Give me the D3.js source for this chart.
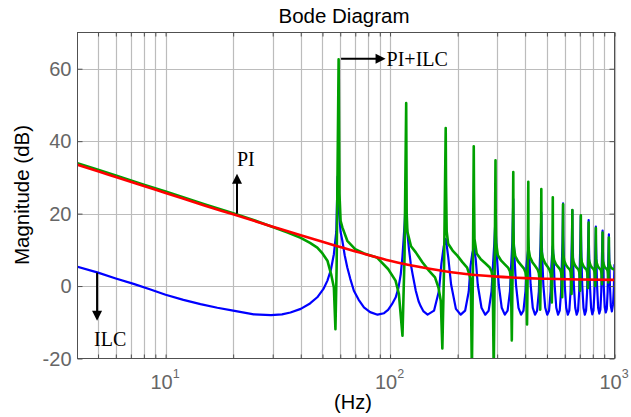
<!DOCTYPE html>
<html><head><meta charset="utf-8">
<script src="https://cdn.jsdelivr.net/npm/d3@7"></script>
<style>body{margin:0;background:#fff}svg{display:block}</style>
</head><body><svg id="c" width="631" height="417"></svg>
<script>
// ---- data ----
const xTicks = [10, 100, 1000];
const xTickExp = ["1", "2", "3"];
const yTicks = [-20, 0, 20, 40, 60];
const xGrid = [5,6,7,8,9,10,20,30,40,50,60,70,80,90,100,200,300,400,500,600,700,800,900,1000];

const piCurve = [[4,33.6],[5,31.7],[6,30.1],[8,27.6],[10,25.7],[15,22.2],[20,19.8],[30,16.4],[40,14.0],[50,12.2],[60,10.8],[80,8.6],[100,7.0],[150,4.8],[200,3.6],[300,2.6],[400,2.2],[500,2.0],[700,1.8],[1000,1.7]];

const ilcCurve = [[4,5.4],[5,3.7],[6,2.1],[7.2,0.6],[8.5,-0.9],[10,-2.4],[12,-3.8],[14.3,-5.0],[17,-6.0],[20,-6.8],[24.7,-7.8],[29.5,-8.0],[33,-7.8],[36,-7.3],[40,-6.3],[44,-4.8],[47.4,-3.1],[50.5,-0.8],[52.6,1.5],[54.5,4.5],[56.2,8.8],[57.6,15],[58.4,30.2],[59.3,20],[60.2,15],[61.3,12.5],[62.8,8.5],[64.5,5.1],[66.5,2],[69,-1.3],[72.5,-3.8],[76.5,-5.9],[81.5,-7.2],[88,-7.9],
[94,-7.5],[98,-6.6],[102,-5.0],[106,-3.1],[109,-0.5],[111.6,3.3],[113.5,8],[114.8,12.5],[116.3,18],[117.4,23.7],[118.5,17],[119.6,14.3],[121.5,10],[123.7,6.1],[126,3.3],[130.2,-1.3],[134,-4.2],[137,-5.6],[141,-7.0],[147,-7.9],
[157,-6.8],[165.2,-1.3],[169.3,6.1],[173.5,11],[177,13],[178.2,12],[181.7,7.9],[187,0.5],[196.5,-6.3],[206.5,-7.9],
[216,-6.8],[224.2,-1.5],[228.3,5.5],[232.5,9],[236,10.6],[237.2,10],[240.7,7.5],[246,0.3],[255.5,-6],[265.5,-7.9],
[275,-6.8],[283.2,-1.5],[287.3,5.5],[291.5,12],[295,18.9],[296.2,14],[299.7,7.5],[305,0.3],[314.5,-6],[324.5,-7.9],
[334,-6.8],[342.2,-1.5],[346.3,5.5],[350.5,12],[354,24],[355.2,14],[358.7,7.5],[364,0.3],[373.5,-6],[383.5,-7.9],
[393,-6.8],[401.2,-1.5],[405.3,5.5],[409.5,8.5],[413,10.3],[414.2,9.5],[417.7,7.5],[423,0.3],[432.5,-6],[442.5,-7.9],
[452,-6.8],[460.2,-1.5],[464.3,5.5],[468.5,12],[472,20.3],[473.2,14],[476.7,7.5],[482,0.3],[491.5,-6],[501.5,-7.9],
[511,-6.8],[519.2,-1.5],[523.3,5.5],[527.5,9],[531,11],[532.2,10],[535.7,7.5],[541,0.3],[550.5,-6],[560.5,-7.9],
[570,-6.8],[578.2,-1.5],[582.3,5.5],[586.5,12],[590,22.8],[591.2,14],[594.7,7.5],[600,0.3],[609.5,-6],[619.5,-7.9],
[629,-6.8],[637.2,-1.5],[641.3,5.5],[645.5,12],[649,21],[650.2,14],[653.7,7.5],[659,0.3],[668.5,-6],[678.5,-7.9],
[688,-6.8],[696.2,-1.5],[700.3,5.5],[704.5,12],[708,19.4],[709.2,14],[712.7,7.5],[718,0.3],[727.5,-6],[737.5,-7.9],
[747,-6.8],[755.2,-1.5],[759.3,5.5],[763.5,12],[767,18.2],[768.2,13],[771.7,7.5],[777,0.3],[786.5,-6],[796.5,-7.8],
[806,-6.7],[814.2,-1.5],[818.3,5.5],[822.5,11],[826,16.4],[827.2,12],[830.7,7.5],[836,0.3],[845.5,-6],[855.5,-7.6],
[865,-6.5],[873.2,-1.5],[877.3,5.5],[881.5,11],[885,15.3],[886.2,12],[889.7,7.5],[895,0.3],[904.5,-5.8],[914.5,-7.3],
[924,-6.3],[932.2,-1.5],[936.3,5.5],[940.5,10],[944,14.3],[945.2,11],[948.7,7],[954,0.3],[963.5,-5.6],[973.5,-7.0],
[985,-5],[993,-1],[1000,6]];

const piIlcCurve = [[4,34.0],[5,32.1],[6,30.5],[8,28.0],[10,26.1],[15,22.5],[20,20.1],[25,18.1],[30,16.3],[35,14.8],[40,13.3],[44,11.9],[47.4,10.6],[50,9.0],[52.6,7.0],[54.6,3.3],[56.2,-0.4],[57.1,-11.9],[57.8,5],
[59,62.6],[59.5,25.5],[60.2,18],[61.3,16.2],[64.5,12.5],[69.9,10.2],[76.6,9.0],[87.3,7.9],[98,4.7],[105.8,1.5],[109.5,-2.2],[113.6,-13.7],[116,8],
[118,50.5],[118.6,20],[119.5,15],[124,11],[130.2,9.3],[139.6,6.5],[149.3,4.2],[158.6,2.4],[164.3,-0.4],[168.3,-4.1],[171,-17.2],[174,5],
[177,43.6],[177.6,28],[178.8,15],[181.5,11.7],[190,9.8],[199.4,8.4],[210,6.6],[220.5,5.1],[226,3],[229,1.5],[231.5,-24],[234,5],
[236,38.6],[236.6,26.3],[237.8,13],[243.1,9.0],[253.7,7.4],[265.5,6.3],[277.3,5.2],[283.2,4.1],[286.7,2.1],[289.7,-24],[292.6,5],
[295,34.7],[295.6,20],[296.8,12],[302.1,8.5],[312.7,7.0],[324.5,6.0],[336.3,5.0],[342.2,4.0],[345.7,2.0],[348.7,-15],[351.6,5],
[354,31.5],[354.6,16],[355.8,11],[361.1,8.3],[371.7,6.8],[383.5,5.8],[395.3,4.8],[401.2,3.8],[404.7,1.8],[407.7,-10.6],[410.6,5],
[413,28.8],[413.6,14],[414.8,10],[420.1,8.0],[430.7,6.6],[442.5,5.6],[454.3,4.6],[460.2,3.6],[463.7,1.6],[466.7,-6.5],[469.6,5],
[472,26.8],[472.6,13],[473.8,9.5],[479.1,7.8],[489.7,6.4],[501.5,5.5],[513.3,4.5],[519.2,3.5],[522.7,1.8],[525.7,-4.5],[528.6,5],
[531,24.5],[531.6,12],[532.8,9],[538.1,7.2],[548.7,6.0],[560.5,5.3],[572.3,4.6],[578.2,3.8],[581.7,2.2],[584.7,-3.1],[587.6,5],
[590,22.6],[590.6,11],[591.8,8.5],[597.1,7.0],[607.7,5.8],[619.5,5.1],[631.3,4.6],[637.2,3.9],[640.7,2.4],[643.7,-2.2],[646.6,5],
[649,21.0],[649.6,10],[650.8,8],[656.1,6.8],[666.7,5.7],[678.5,5.1],[690.3,4.6],[696.2,3.9],[699.7,2.5],[702.7,-1.3],[705.6,5],
[708,19.5],[708.6,10],[709.8,8],[715.1,6.6],[725.7,5.6],[737.5,5.0],[749.3,4.6],[755.2,3.9],[758.7,2.6],[761.7,-0.5],[764.6,5],
[767,17.5],[767.6,9],[768.8,7.5],[774.1,6.5],[784.7,5.5],[796.5,5.0],[808.3,4.6],[814.2,4.0],[817.7,2.8],[820.7,0],[823.6,5],
[826,16],[826.6,9],[827.8,7.5],[833.1,6.4],[843.7,5.4],[855.5,4.9],[867.3,4.6],[873.2,4.0],[876.7,3.0],[879.7,0.5],[882.6,5],
[885,14.8],[885.6,8],[886.8,7],[892.1,6.3],[902.7,5.3],[914.5,4.9],[926.3,4.6],[932.2,4.1],[935.7,3.2],[938.7,1],[941.6,5],
[944,13.4],[944.6,8],[945.8,7],[951.1,6.2],[961.7,5.2],[973.5,4.9],[985.3,4.7],[1000,4.6]];

// annotation anchors (data coords)
const annPI = {hz: 20.8, db: 20, tipDb: 31, label: "PI"};
const annILC = {hz: 4.95, db: 3.7, tipDb: -9.6, label: "ILC"};
const annPIILC = {hz: 60.5, db: 62.5, tipHz: 95.5, label: "PI+ILC"};

// ---- layout ----
const L = 77.5, R = 614.5, T = 32.5, B = 358.5;
const svg = d3.select("#c");
const x = d3.scaleLog().domain([4.05, 1000]).range([L, R]);
const y = d3.scaleLinear().domain([-20, 70]).range([B, T]);

svg.append("rect").attr("width",631).attr("height",417).attr("fill","#fff");

// grid
const gridCol = "#bcbcbc";
const g = svg.append("g");
g.selectAll(".vx").data(xGrid).join("line")
  .attr("x1", d => Math.round(x(d))+0.5).attr("x2", d => Math.round(x(d))+0.5)
  .attr("y1", T).attr("y2", B).attr("stroke", gridCol).attr("stroke-width", 1.2);
g.selectAll(".hy").data(yTicks.slice(1)).join("line")
  .attr("y1", d => Math.round(y(d))+0.5).attr("y2", d => Math.round(y(d))+0.5)
  .attr("x1", L).attr("x2", R).attr("stroke", gridCol).attr("stroke-width", 1.2);

// curves
svg.append("clipPath").attr("id","clip").append("rect")
  .attr("x", L).attr("y", T).attr("width", R-L).attr("height", B-T);
const plot = svg.append("g").attr("clip-path","url(#clip)");
const line = d3.line().x(d => x(d[0])).y(d => y(d[1]));
plot.append("path").datum(ilcCurve).attr("d", line)
  .attr("fill","none").attr("stroke","#0000ff").attr("stroke-width",2.2).attr("stroke-linejoin","round");
plot.append("path").datum(piIlcCurve).attr("d", line)
  .attr("fill","none").attr("stroke","#00a000").attr("stroke-width",2.6).attr("stroke-linejoin","round");
plot.append("path").datum(piCurve).attr("d", line.curve(d3.curveMonotoneX))
  .attr("fill","none").attr("stroke","#ff0000").attr("stroke-width",2.6);

// axes box and ticks
const axCol = "#505050";
svg.append("rect").attr("x",L).attr("y",T).attr("width",R-L).attr("height",B-T)
  .attr("fill","none").attr("stroke",axCol).attr("stroke-width",1);
const bottomAxis = d3.axisBottom(x).tickValues(xGrid).tickSize(-4).tickFormat("");
const topAxis = d3.axisTop(x).tickValues(xGrid).tickSize(-4).tickFormat("");
const leftAxis = d3.axisLeft(y).tickValues(yTicks).tickSize(-5).tickFormat("");
const rightAxis = d3.axisRight(y).tickValues(yTicks).tickSize(-5).tickFormat("");
[[bottomAxis,`translate(0,${B})`],[topAxis,`translate(0,${T})`],[leftAxis,`translate(${L},0)`],[rightAxis,`translate(${R},0)`]]
 .forEach(([ax,tr]) => {
   const a = svg.append("g").attr("transform", tr).call(ax);
   a.select(".domain").remove();
   a.selectAll("line").attr("stroke", axCol);
 });

// tick labels
const tickCol = "#666666";
svg.append("g").selectAll("text").data(yTicks).join("text")
  .attr("x", L-6).attr("y", d => y(d)).attr("dy","0.36em")
  .attr("text-anchor","end").attr("font-family","Liberation Sans, Arial, sans-serif")
  .attr("font-size",20).attr("fill",tickCol).text(d => d);
const xl = svg.append("g").selectAll("text").data(xTicks).join("text")
  .attr("x", d => x(d) - 0.5).attr("y", 389)
  .attr("text-anchor","middle").attr("font-family","Liberation Sans, Arial, sans-serif")
  .attr("font-size",20).attr("fill",tickCol);
xl.append("tspan").text("10");
xl.append("tspan").attr("dy",-11).attr("font-size",12.5).text((d,i) => xTickExp[i]);

// titles
svg.append("text").attr("x",344).attr("y",22.5).attr("text-anchor","middle")
  .attr("font-family","Liberation Sans, Arial, sans-serif").attr("font-size",20.5).attr("fill","#000").text("Bode Diagram");
svg.append("text").attr("x",353).attr("y",409).attr("text-anchor","middle")
  .attr("font-family","Liberation Sans, Arial, sans-serif").attr("font-size",20).attr("fill","#000").text("(Hz)");
svg.append("text").attr("transform","translate(29,195) rotate(-90)").attr("text-anchor","middle")
  .attr("font-family","Liberation Sans, Arial, sans-serif").attr("font-size",20.5).attr("fill","#000").text("Magnitude (dB)");

// annotations
const ann = svg.append("g");
const serif = "Liberation Serif, Times New Roman, serif";
function arrowHead(px, py, dir) { // dir: up, down, right
  const w = 5, h = 10;
  let pts;
  if (dir === "up") pts = [[px,py],[px-w,py+h],[px+w,py+h]];
  else if (dir === "down") pts = [[px,py],[px-w,py-h],[px+w,py-h]];
  else pts = [[px,py],[px-h,py-w],[px-h,py+w]];
  ann.append("polygon").attr("points", pts.map(p=>p.join(",")).join(" ")).attr("fill","#000");
}
// PI
{
  const px = x(annPI.hz);
  ann.append("line").attr("x1",px).attr("x2",px).attr("y1",y(annPI.db)).attr("y2",y(annPI.tipDb)+8)
    .attr("stroke","#000").attr("stroke-width",2);
  arrowHead(px, y(annPI.tipDb), "up");
  ann.append("text").attr("x",px).attr("y",y(annPI.tipDb)-8).attr("font-family",serif)
    .attr("font-size",20).attr("fill","#000").text(annPI.label);
}
// ILC
{
  const px = x(annILC.hz);
  ann.append("line").attr("x1",px).attr("x2",px).attr("y1",y(annILC.db)).attr("y2",y(annILC.tipDb)-8)
    .attr("stroke","#000").attr("stroke-width",2);
  arrowHead(px, y(annILC.tipDb), "down");
  ann.append("text").attr("x",px-3).attr("y",y(annILC.tipDb)+25).attr("font-family",serif)
    .attr("font-size",20).attr("fill","#000").text(annILC.label);
}
// PI+ILC
{
  const py = y(annPIILC.db) - 1;
  const tx = x(annPIILC.tipHz);
  ann.append("line").attr("x1",x(annPIILC.hz)).attr("x2",tx-8).attr("y1",py).attr("y2",py)
    .attr("stroke","#000").attr("stroke-width",2);
  arrowHead(tx, py, "right");
  ann.append("text").attr("x",tx+1).attr("y",py+7.5).attr("font-family",serif)
    .attr("font-size",20).attr("fill","#000").text(annPIILC.label);
}
</script></body></html>
